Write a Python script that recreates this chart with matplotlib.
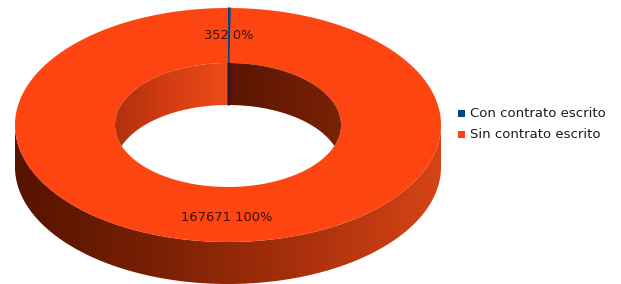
import numpy as np
import matplotlib.pyplot as plt
from matplotlib.patches import Polygon
from matplotlib.colors import LinearSegmentedColormap

labels = ["Con contrato escrito", "Sin contrato escrito"]
values = [352, 167671]
colors = ["#004586", "#ff420e"]

# ring geometry in pixels
cx, cy = 228, 125
rx_out, ry_out = 213, 117
rx_in, ry_in = 113, 62
depth = 42


def arc(rx, ry, t0, t1, n=200, dy=0):
    t = np.radians(np.linspace(t0, t1, n))
    return np.column_stack([cx + rx * np.cos(t), cy - ry * np.sin(t) + dy])


def gradient_fill(ax, poly, x0, x1, y0, y1, cols):
    cmap = LinearSegmentedColormap.from_list("g", cols)
    img = ax.imshow(np.linspace(0, 1, 256)[None, :], cmap=cmap, extent=(x0, x1, y1, y0),
                    aspect="auto", zorder=poly.get_zorder(), interpolation="bilinear")
    img.set_clip_path(poly)


fig = plt.figure(figsize=(6.21, 2.84), dpi=100)
ax = fig.add_axes([0, 0, 1, 1])

total = sum(values)
bounds = 90 - np.cumsum([0] + values) / total * 360

# outer side (front half)
side = np.vstack([arc(rx_out, ry_out, 180, 360), arc(rx_out, ry_out, 360, 180, dy=depth)])
side_poly = Polygon(side, closed=True, facecolor="none", edgecolor="none", zorder=1)
ax.add_patch(side_poly)
gradient_fill(ax, side_poly, cx - rx_out, cx + rx_out, cy, cy + ry_out + depth,
              ["#551300", "#7a2004", "#a8300c", "#d64416"])

# top face slices
for i in range(len(values)):
    a0, a1 = bounds[i], bounds[i + 1]
    pts = np.vstack([arc(rx_out, ry_out, a0, a1), arc(rx_in, ry_in, a1, a0)])
    ax.add_patch(Polygon(pts, closed=True, facecolor=colors[i] if i == 0 else "#fd4512",
                         edgecolor=colors[i] if i == 0 else "none", lw=0.8, zorder=2))

# back wall of the hole: inside the top inner ellipse, above the lowered one
th = np.degrees(np.arcsin(depth / 2 / ry_in))
a_split = bounds[1]
wall_left = np.vstack([arc(rx_in, ry_in, 90, 180 + th), arc(rx_in, ry_in, 180 - th, 90, dy=depth)])
wall_right = np.vstack([arc(rx_in, ry_in, -th, a_split), arc(rx_in, ry_in, a_split, th, dy=depth)])
for pts, cols, xs in [
    (wall_left, ["#b0300c", "#d43e14", "#ef4b18"], (cx - rx_in, cx)),
    (wall_right, ["#5a1502", "#6a1b04", "#7a2206"], (cx, cx + rx_in)),
]:
    p = Polygon(pts, closed=True, facecolor="none", edgecolor="none", zorder=4)
    ax.add_patch(p)
    gradient_fill(ax, p, xs[0], xs[1], cy - ry_in, cy + depth, cols)
# thin wall of the small slice
wall_small = np.vstack([arc(rx_in, ry_in, a_split, 90, n=10), arc(rx_in, ry_in, 90, a_split, n=10, dy=depth)])
ax.add_patch(Polygon(wall_small, closed=True, facecolor="#2a1a3a", edgecolor="#2a1a3a", lw=0.8, zorder=5))

# value labels
rx_mid, ry_mid = (rx_out + rx_in) / 2, (ry_out + ry_in) / 2 + 2
for i, v in enumerate(values):
    mid = np.radians((bounds[i] + bounds[i + 1]) / 2)
    pct = v / total * 100
    ax.text(cx + rx_mid * np.cos(mid), cy - ry_mid * np.sin(mid) + 1.5, f"{v} {pct:.0f}%",
            ha="center", va="center", fontsize=9.4, color="#3a1005", zorder=10)

# legend
for i, lab in enumerate(labels):
    y = 113.5 + 21 * i
    ax.add_patch(Polygon([[458, y - 3.5], [465, y - 3.5], [465, y + 3.5], [458, y + 3.5]],
                         closed=True, facecolor=colors[i], edgecolor="none"))
    ax.text(470, y, lab, ha="left", va="center", fontsize=9.5, color="#1a1a1a")

ax.set_xlim(0, 621)
ax.set_ylim(284, 0)
ax.axis("off")
fig.savefig("out.png", dpi=100)
